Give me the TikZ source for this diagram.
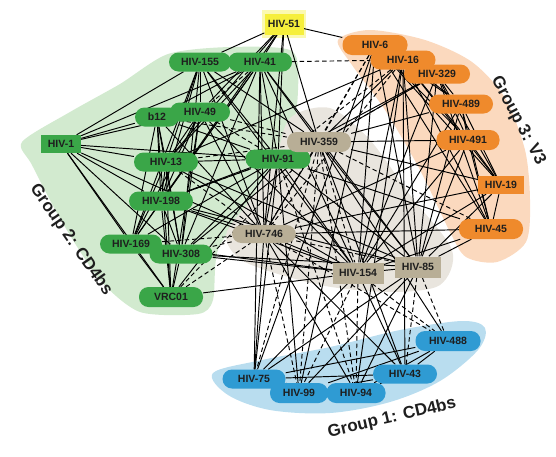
\documentclass[tikz,border=0pt]{standalone}
\usepackage{fontspec}
\setmainfont{Liberation Sans}
\pgfdeclarelayer{blob}
\pgfdeclarelayer{edge}
\pgfsetlayers{blob,edge,main}
\definecolor{gfill}{HTML}{3AA648}
\definecolor{gbg}{HTML}{D2EACF}
\definecolor{ofill}{HTML}{EF8A2C}
\definecolor{obg}{HTML}{FBD9BE}
\definecolor{tfill}{HTML}{B8AE96}
\definecolor{tbg}{HTML}{E9E5DE}
\definecolor{bfill}{HTML}{2F9BD3}
\definecolor{bbg}{HTML}{B9DDEF}
\definecolor{yfill}{HTML}{F6EF3B}
\definecolor{ink}{HTML}{1E1E1E}
\tikzset{
  base/.style={inner sep=0pt, minimum height=19pt, minimum width=62pt, font=\fontsize{10.5}{11}\selectfont\bfseries, text=ink},
  pill/.style={base, rounded corners=9.5pt},
  gn/.style={pill, fill=gfill},
  on/.style={pill, fill=ofill},
  tn/.style={pill, fill=tfill},
  bn/.style={pill, fill=bfill},
  sq/.style={base, rounded corners=0pt},
  ln/.style={line width=0.95pt, black},
  dl/.style={line width=0.95pt, black, dash pattern=on 4.5pt off 3pt},
  grp/.style={font=\fontsize{17}{19}\selectfont\bfseries, text=ink}
}
\begin{document}
\begin{tikzpicture}[x=1pt,y=-1pt]
\useasboundingbox (0,0) rectangle (556,456);
% nodes
\node[sq, fill=yfill, minimum width=39pt, minimum height=21pt] (n51) at (284,24) {HIV-51};
\node[gn] (n155) at (200,62) {HIV-155};
\node[gn, minimum width=64pt] (n41) at (260,62) {HIV-41};
\node[gn, minimum width=44pt] (b12) at (157,117) {b12};
\node[gn, minimum width=60pt] (n49) at (200,112) {HIV-49};
\node[sq, fill=gfill, minimum width=40pt, minimum height=18pt] (n1) at (61,144) {HIV-1};
\node[gn, minimum width=64pt] (n13) at (166,162) {HIV-13};
\node[gn, minimum width=65pt] (n91) at (278,159) {HIV-91};
\node[gn, minimum width=64pt] (n198) at (161,201) {HIV-198};
\node[gn, minimum width=62pt] (n169) at (131,244) {HIV-169};
\node[gn, minimum width=63pt] (n308) at (181,254) {HIV-308};
\node[gn, minimum width=64pt, minimum height=20pt] (vrc) at (171,297) {VRC01};
\node[tn, minimum width=64pt, minimum height=20pt] (n359) at (319,142) {HIV-359};
\node[tn, minimum width=64pt, minimum height=18pt] (n746) at (264,234) {HIV-746};
\node[sq, fill=tfill, minimum width=51pt, minimum height=21pt] (n154) at (358,273) {HIV-154};
\node[sq, fill=tfill, minimum width=46pt, minimum height=21pt] (n85) at (418,267) {HIV-85};
\node[on, minimum width=65pt, minimum height=20pt] (n6) at (375,45) {HIV-6};
\node[on, minimum width=65pt] (n16) at (403,60) {HIV-16};
\node[on, minimum width=66pt] (n329) at (437,74) {HIV-329};
\node[on, minimum width=64pt] (n489) at (461,104) {HIV-489};
\node[on, minimum width=63pt, minimum height=20pt] (n491) at (468,140) {HIV-491};
\node[sq, fill=ofill, minimum width=46pt, minimum height=18pt] (n19) at (501,185) {HIV-19};
\node[on, minimum width=64pt, minimum height=20pt] (n45) at (491,229) {HIV-45};
\node[bn, minimum width=65pt, minimum height=20pt] (n488) at (448,341) {HIV-488};
\node[bn, minimum width=64pt] (n43) at (405,374) {HIV-43};
\node[bn, minimum width=58pt, minimum height=20pt] (n99) at (299,393) {HIV-99};
\node[bn, minimum width=59pt, minimum height=20pt] (n94) at (356,393) {HIV-94};
\node[bn, minimum width=63pt] (n75) at (254,379) {HIV-75};
% group labels
\node[grp, rotate=-55] (g2) at (71,240) {Group 2: CD4bs};
\node[grp, rotate=-62] (g3) at (518,121) {Group 3: V3};
\node[grp, rotate=13] (g1) at (392,418) {Group 1: CD4bs};
% background blobs
\begin{pgfonlayer}{blob}
\fill[gbg] plot[smooth cycle, tension=0.45] coordinates {(22,142) (70,112) (120,84) (168,54) (230,47) (292,51) (298,90) (290,135) (250,200) (218,250) (213,300) (198,314) (140,312) (100,280) (62,222) (32,165)};
\fill[tbg] plot[smooth cycle, tension=0.5] coordinates {(290,118) (330,108) (370,140) (410,195) (452,250) (440,285) (390,292) (320,285) (245,262) (226,235) (250,200) (275,160)};
\fill[obg] plot[smooth cycle, tension=0.5] coordinates {(338,40) (370,30) (425,40) (472,62) (505,98) (525,150) (530,200) (526,242) (497,262) (466,257) (450,232) (420,170) (385,110) (352,65)};
\fill[bbg] plot[smooth cycle, tension=0.55] coordinates {(213,373) (262,360) (330,347) (400,330) (462,321) (485,328) (478,350) (440,381) (390,402) (330,413) (270,410) (228,395)};
\fill[yfill!40] (262,10) rectangle (306,38);
\end{pgfonlayer}
% connectors
\begin{pgfonlayer}{edge}
\foreach \a/\b in {n51/n155,n51/n41,n51/n49,n51/n13,n51/n91,n51/n359,n51/n6,n51/n746,n51/n198,
 n1/b12,n1/n49,n1/n155,n1/n41,n1/n13,n1/n91,n1/n198,n1/n169,n1/n308,n1/vrc,n1/n746,
 n155/n13,n155/n198,n155/n169,n155/n91,n155/n359,n155/n746,n155/n308,n155/n154,n155/n49,
 n41/n13,n41/n198,n41/n91,n41/n169,n41/n308,n41/n359,n41/n746,n41/n154,n41/n85,n41/n75,n41/b12,
 b12/n13,b12/n198,b12/n169,b12/n308,b12/vrc,b12/n91,b12/n746,
 n49/n13,n49/n198,n49/n169,n49/n308,n49/vrc,n49/n746,n49/n154,
 n13/n91,n13/n198,n13/n169,n13/n308,n13/vrc,n13/n154,n13/n85,n13/n16,
 n91/n198,n91/n169,n91/n308,n91/vrc,n91/n746,n91/n154,n91/n85,n91/n75,n91/n99,n91/n329,n91/n45,
 n198/n169,n198/n308,n198/vrc,n198/n359,n198/n746,n198/n154,n198/n85,
 n169/n308,n169/vrc,n169/n154,n308/vrc,n308/n154,n308/n85,n308/n359,vrc/n154,
 n359/n491,n359/n489,n359/n16,n359/n329,n359/n85,n359/n43,n359/n19,n359/n746,n359/n488,
 n746/n45,n746/n154,n746/n75,n746/n94,n746/n43,n746/n19,n746/n491,
 n154/n85,n154/n75,n154/n43,n154/n16,n154/n329,n154/n489,n154/n491,n154/n19,n154/n45,n154/n6,
 n85/n75,n85/n99,n85/n94,n85/n16,n85/n329,n85/n489,n85/n491,n85/n19,n85/n45,n85/n6,
 n6/n16,n6/n489,n6/n491,n6/n19,n6/n45,n6/n75,n6/n99,
 n16/n329,n16/n489,n16/n491,n16/n19,n16/n45,n16/n94,n16/n43,
 n329/n489,n329/n491,n329/n19,n329/n45,n489/n491,n489/n19,n489/n45,n491/n19,n491/n45,n19/n45,
 n75/n99,n75/n94,n75/n43,n75/n488,n99/n94,n99/n43,n94/n43,n94/n488,n43/n488,n99/n488}
  \draw[ln] (\a) -- (\b);
\foreach \a/\b in {n41/n16,n6/n359,n16/n746,n16/n91,n49/n359,b12/n359,n13/n359,n746/n85,
 n308/n746,vrc/n746,vrc/n359,n169/n746,n746/n99,n154/n99,n154/n94,n85/n43,n359/n99,
 n359/n94,n359/n75,n91/n94,n198/n91,n359/n45,n154/n488,n85/n488,n359/n154,n49/n91,
 n13/n746,n6/n746,n329/n359,n91/n359,n41/n49,n155/n41,n746/n488}
  \draw[dl] (\a) -- (\b);
\end{pgfonlayer}
\end{tikzpicture}
\end{document}
